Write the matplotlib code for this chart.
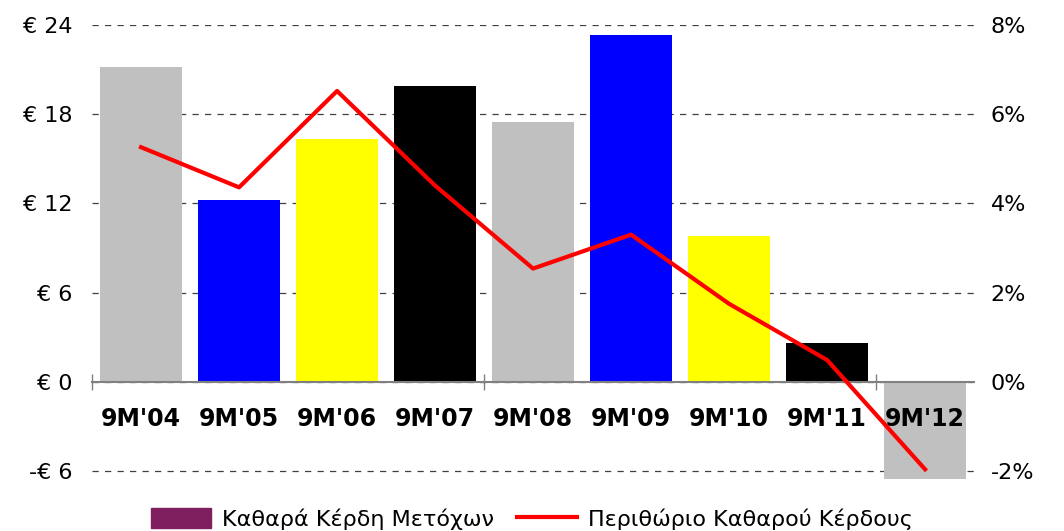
import matplotlib
matplotlib.use("Agg")
import matplotlib.pyplot as plt
from matplotlib.patches import Patch
from matplotlib.lines import Line2D
import numpy as np

periods = ["9M'04", "9M'05", "9M'06", "9M'07", "9M'08", "9M'09", "9M'10", "9M'11", "9M'12"]
net_profit = [21.2, 12.2, 16.3, 19.9, 17.5, 23.3, 9.8, 2.6, -6.5]
net_margin = [5.26, 4.36, 6.52, 4.40, 2.54, 3.30, 1.75, 0.49, -1.96]
bar_colors = ["#C0C0C0", "#0000FF", "#FFFF00", "#000000"] * 3

plt.rcParams['font.family'] = ['DejaVu Sans']

fig = plt.figure(figsize=(10.64, 5.31), dpi=100)
ax = fig.add_axes([0.0865, 0.096, 0.829, 0.857])
x = np.arange(len(periods))

ax.bar(x, net_profit, width=0.83, color=bar_colors[:len(periods)], zorder=2)
ax.set_xlim(-0.5, len(periods) - 0.5)
ax.set_ylim(-6.6, 24)
ax.set_yticks([-6, 0, 6, 12, 18, 24])
ax.set_yticklabels(["-€ 6", "€ 0", "€ 6", "€ 12", "€ 18", "€ 24"], fontsize=16)
ax.tick_params(axis='y', length=0, pad=14)
ax.grid(axis='y', linestyle=(0, (5, 5)), color='#404040', linewidth=0.9, zorder=0)

for s in ['top', 'right', 'left']:
    ax.spines[s].set_visible(False)
ax.spines['bottom'].set_position(('data', 0))
ax.spines['bottom'].set_color('#808080')
ax.spines['bottom'].set_linewidth(1.5)
ax.spines['bottom'].set_zorder(3)
ax.set_xticks([-0.5, 3.5, 7.5])
ax.set_xticklabels([])
ax.tick_params(axis='x', direction='inout', length=12, color='#808080', width=1)

for i, lab in enumerate(periods):
    ax.annotate(lab, xy=(i, 0), xytext=(0, -27), textcoords='offset points',
                ha='center', va='center', fontsize=17, fontweight='bold', zorder=5)

ax2 = ax.twinx()
ax2.plot(x, net_margin, color='#FF0000', linewidth=3, zorder=4)
ax2.set_ylim(-2.2, 8)
ax2.set_yticks([-2, 0, 2, 4, 6, 8])
ax2.set_yticklabels([f"{v}%" for v in [-2, 0, 2, 4, 6, 8]], fontsize=16)
ax2.tick_params(axis='y', length=0, pad=12)
for s in ['top', 'right', 'left', 'bottom']:
    ax2.spines[s].set_visible(False)

handles = [Patch(color='#7F1F5F'), Line2D([0], [0], color='#FF0000', linewidth=3)]
fig.legend(handles, ["Καθαρά Κέρδη Μετόχων", "Περιθώριο Καθαρού Κέρδους"],
           loc='lower center', bbox_to_anchor=(0.5, -0.035), ncol=2, frameon=False,
           fontsize=16, handlelength=2.7, handleheight=1.0, columnspacing=1.0, handletextpad=0.5)

fig.savefig("out.png", dpi=100)
